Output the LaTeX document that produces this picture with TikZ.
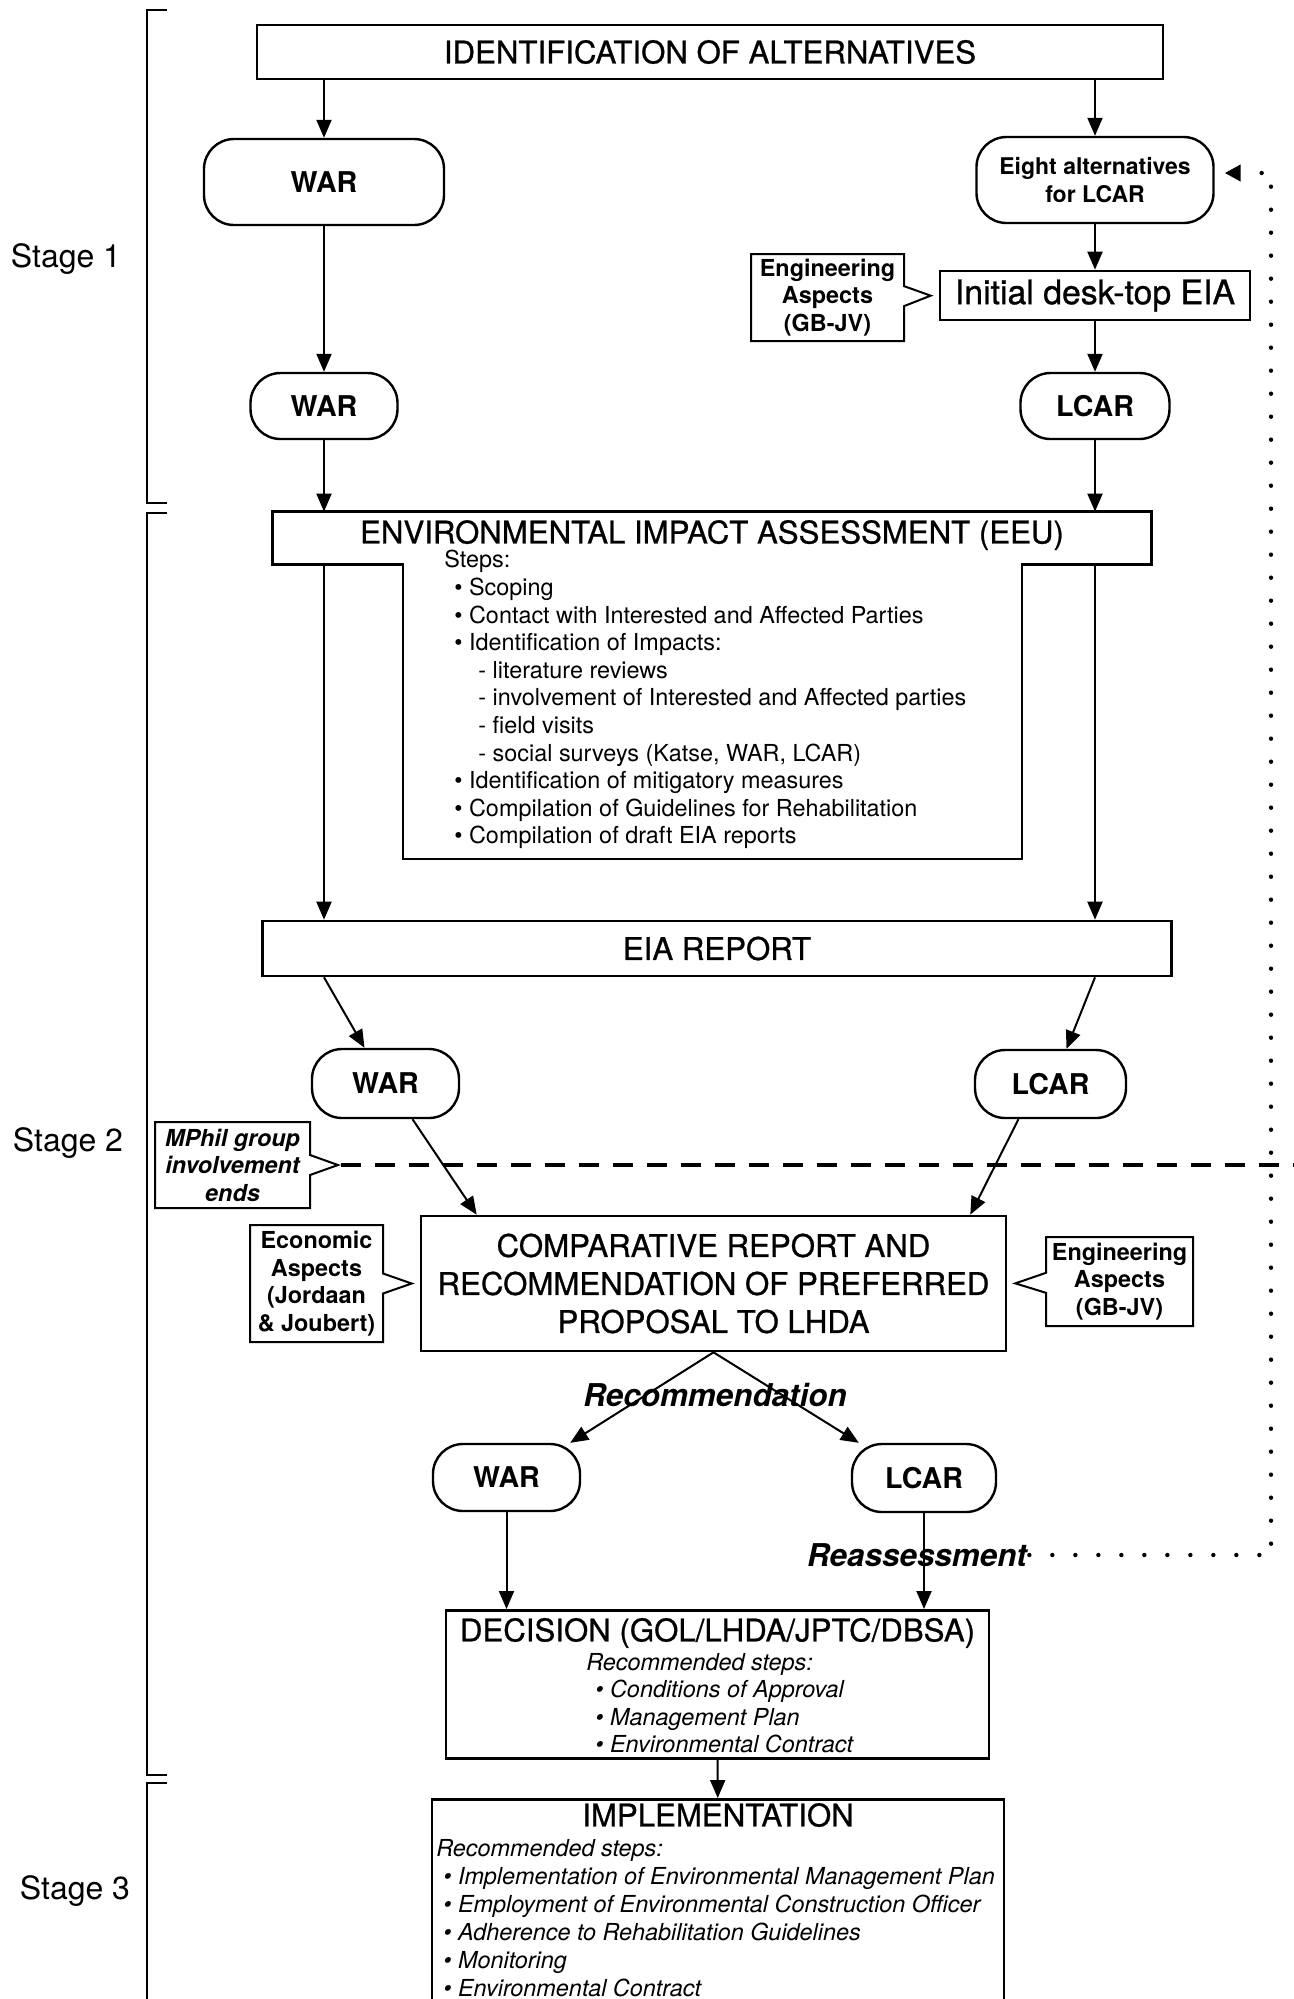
\documentclass[tikz,border=0pt]{standalone}
\usepackage{fontspec}
\setmainfont{TeX Gyre Heros}
\newfontfamily\headfont[FakeBold=0.8]{TeX Gyre Heros}
\usepackage{tikz}
\usetikzlibrary{arrows.meta,positioning,calc,shapes.callouts}

\begin{document}
\begin{tikzpicture}[x=0.5pt,y=-0.5pt,
    box/.style={draw,line width=1.3pt,inner sep=0pt},
    alt/.style={draw,line width=1.2pt,rounded corners=15pt,inner sep=0pt,
      font=\bfseries\fontsize{14.3}{17}\selectfont},
    head/.style={font=\headfont\fontsize{15.6}{19}\selectfont},
    note/.style={rectangle callout,draw,line width=1pt,inner sep=0pt,align=center,
      callout pointer width=10pt,callout pointer shorten=4pt,
      font=\bfseries\fontsize{11.7}{13.75}\selectfont},
    small/.style={anchor=north west,inner sep=0pt,align=left,
      font=\fontsize{11.7}{13.8}\selectfont},
    arr/.style={line width=1pt,-{Triangle[length=9pt,width=7.5pt]}},
    stagelbl/.style={font=\fontsize{16}{19}\selectfont},
    italbl/.style={font=\bfseries\itshape\fontsize{15.7}{19}\selectfont,inner sep=1pt},
    dotline/.style={line width=2.2pt,line cap=round,dash pattern=on 0pt off 11.5pt,
      -{Triangle[length=8pt,width=8pt]},shorten >=5pt}]

  \useasboundingbox (0,0) rectangle (1294,1999);

  % stage brackets
  \draw[line width=1.2pt] (167,10) -| (147,503) -- (167,503);
  \draw[line width=1.2pt] (167,513) -| (147,1775) -- (167,1775);
  \draw[line width=1.2pt] (167,1783) -| (147,2010);
  \node[stagelbl] (stage1) at (66,259) {Stage 1};
  \node[stagelbl] (stage2) at (68,1143) {Stage 2};
  \node[stagelbl] (stage3) at (75,1891) {Stage 3};

  % stage 1
  \node[box,head,minimum width=453pt,minimum height=27pt] (ident) at (710,52)
    {IDENTIFICATION OF ALTERNATIVES};
  \node[alt,minimum width=120pt,minimum height=43pt] (war1) at (324,182) {WAR};
  \node[alt,minimum width=118.5pt,minimum height=43pt,align=center,
    font=\bfseries\fontsize{11.5}{14}\selectfont] (eight) at (1095,180)
    {Eight alternatives\\for LCAR};
  \node[box,minimum width=155pt,minimum height=24.5pt,
    font=\headfont\fontsize{16.9}{20}\selectfont] (init) at (1095,295.5) {Initial desk-top EIA};
  \node[note,minimum width=76.5pt,minimum height=43.5pt,
    callout absolute pointer={(init.west)}] (eng1) at (827.5,297.5)
    {Engineering\\Aspects\\(GB-JV)};
  \node[alt,minimum width=73.5pt,minimum height=33pt] (war2) at (324,406) {WAR};
  \node[alt,minimum width=74.5pt,minimum height=33pt] (lcar1) at (1095,406) {LCAR};

  \draw[arr] (ident.south -| war1) -- (war1);
  \draw[arr] (ident.south -| eight) -- (eight);
  \draw[arr] (war1) -- (war2);
  \draw[arr] (eight) -- (init);
  \draw[arr] (init) -- (lcar1);

  % EIA
  \node[head,minimum width=439pt,minimum height=26pt,inner sep=0pt,text depth=6.2pt]
    (eia) at (712,538) {ENVIRONMENTAL IMPACT ASSESSMENT (EEU)};
  \node[minimum width=309pt,minimum height=147pt,inner sep=0pt,anchor=north west]
    (stem) at (403,564) {};
  \draw[line width=1.3pt] (eia.north west) -- (eia.north east) -- (eia.south east)
    -- (eia.south -| stem.east) -- (stem.south east) -- (stem.south west)
    -- (eia.south -| stem.west) -- (eia.south west) -- cycle;
  \node[small] (steps) at (444,550) {Steps:\\
    \hspace*{5pt}• Scoping\\
    \hspace*{5pt}• Contact with Interested and Affected Parties\\
    \hspace*{5pt}• Identification of Impacts:\\
    \hspace*{17pt}- literature reviews\\
    \hspace*{17pt}- involvement of Interested and Affected parties\\
    \hspace*{17pt}- field visits\\
    \hspace*{17pt}- social surveys (Katse, WAR, LCAR)\\
    \hspace*{5pt}• Identification of mitigatory measures\\
    \hspace*{5pt}• Compilation of Guidelines for Rehabilitation\\
    \hspace*{5pt}• Compilation of draft EIA reports};

  \node[box,head,minimum width=454.5pt,minimum height=27.5pt] (report) at (717,948.5)
    {EIA REPORT};

  \draw[arr] (war2) -- (eia.north -| war2);
  \draw[arr] (lcar1) -- (eia.north -| lcar1);
  \draw[arr] (eia.south -| war2) -- (report.north -| war2);
  \draw[arr] (eia.south -| lcar1) -- (report.north -| lcar1);

  % stage 2
  \node[alt,minimum width=73.5pt,minimum height=34.5pt] (war3) at (385.5,1083.5) {WAR};
  \node[alt,minimum width=75.5pt,minimum height=34pt] (lcar3) at (1050.5,1084) {LCAR};
  \draw[arr] (report.south -| war2) -- ([xshift=-10.5pt]war3.north);
  \draw[arr] (report.south -| lcar1) -- ([xshift=8pt]lcar3.north);

  \coordinate (mphiltip) at (338,1165);
  \coordinate (dashend) at (1294,1165);
  \node[note,font=\bfseries\itshape\fontsize{11.7}{13.75}\selectfont,
    minimum width=77.5pt,minimum height=43pt,
    callout absolute pointer={(mphiltip)},callout pointer shorten=0pt] (mphil)
    at (232.5,1165) {MPhil group\\involvement\\ends};
  \draw[line width=2.2pt,dash pattern=on 10pt off 7pt] (mphil.pointer) -- (dashend);

  \node[box,head,minimum width=292.5pt,minimum height=67.5pt,align=center] (comp)
    at (713.5,1283.5)
    {COMPARATIVE REPORT AND\\RECOMMENDATION OF PREFERRED\\PROPOSAL TO LHDA};
  \draw[arr] ([xshift=13.5pt]war3.south) -- ([xshift=28.5pt]comp.north west);
  \draw[arr] ([xshift=-16pt]lcar3.south) -- ([xshift=-18.5pt]comp.north east);

  \node[note,minimum width=66.5pt,minimum height=58.5pt,
    callout absolute pointer={(comp.west)}] (econ) at (316.5,1283.5)
    {Economic\\Aspects\\(Jordaan\\\& Joubert)};
  \node[note,minimum width=73.5pt,minimum height=44.5pt,
    callout absolute pointer={(comp.east)}] (eng2) at (1119.5,1281.5)
    {Engineering\\Aspects\\(GB-JV)};

  \node[italbl] (recom) at (715,1395) {Recommendation};
  \node[alt,minimum width=73.5pt,minimum height=33.5pt] (war4) at (506.5,1477.5) {WAR};
  \node[alt,minimum width=72pt,minimum height=34pt] (lcar4) at (924,1478) {LCAR};
  \draw[arr] (comp.south) -- ([xshift=-5.5pt]war4.north east);
  \draw[arr] (comp.south) -- ([xshift=4pt]lcar4.north west);

  % decision
  \node[box,minimum width=271.5pt,minimum height=74pt,anchor=north] (dec) at (717.5,1609) {};
  \node[head] (dectitle) at ([yshift=-12pt]dec.north) {DECISION (GOL/LHDA/JPTC/DBSA)};
  \node[small,font=\itshape\fontsize{11.7}{13.75}\selectfont] (decsteps) at (586,1653)
    {Recommended steps:\\
    \hspace*{4.5pt}• Conditions of Approval\\
    \hspace*{4.5pt}• Management Plan\\
    \hspace*{4.5pt}• Environmental Contract};
  \draw[arr] (war4) -- (war4 |- dec.north);
  \draw[arr] (lcar4) -- (lcar4 |- dec.north);

  % reassessment loop
  \node[italbl] (reass) at (917,1555) {Reassessment};
  \coordinate (dotcorner) at (1271,1555);
  \coordinate (dottop) at (1271,173);
  \draw[dotline] (reass.east) -- (dotcorner) -- (dottop) -- (eight.east |- dottop);

  % stage 3
  \node[box,minimum width=286pt,minimum height=115pt,anchor=north] (impl) at (718,1798) {};
  \node[head] (impltitle) at ([yshift=-8.5pt]impl.north) {IMPLEMENTATION};
  \node[small,font=\itshape\fontsize{11.7}{14}\selectfont] (implsteps) at (436,1839)
    {Recommended steps:\\
    \hspace*{3.5pt}• Implementation of Environmental Management Plan\\
    \hspace*{3.5pt}• Employment of Environmental Construction Officer\\
    \hspace*{3.5pt}• Adherence to Rehabilitation Guidelines\\
    \hspace*{3.5pt}• Monitoring\\
    \hspace*{3.5pt}• Environmental Contract};
  \draw[arr] (dec) -- (impl);
\end{tikzpicture}
\end{document}
